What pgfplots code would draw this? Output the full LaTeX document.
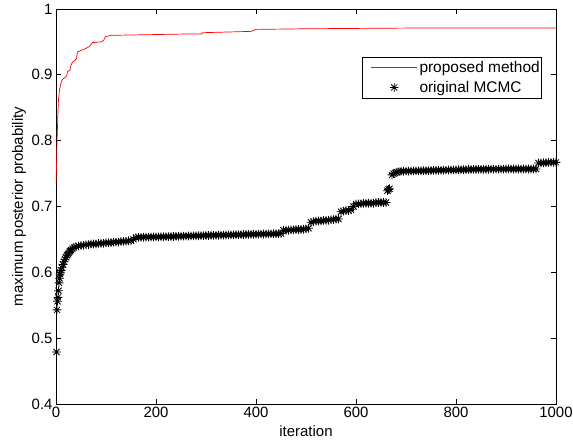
\documentclass[border=0pt]{standalone}
\usepackage{pgfplots}
\pgfplotsset{compat=1.18}
\usepackage{fontspec}
\setmainfont{Liberation Sans}

% MATLAB-like '*' marker: plus and cross together
\pgfdeclareplotmark{mstar}{%
  \pgfpathmoveto{\pgfqpoint{-\pgfplotmarksize}{0pt}}\pgfpathlineto{\pgfqpoint{\pgfplotmarksize}{0pt}}%
  \pgfpathmoveto{\pgfqpoint{0pt}{-\pgfplotmarksize}}\pgfpathlineto{\pgfqpoint{0pt}{\pgfplotmarksize}}%
  \pgfpathmoveto{\pgfqpoint{-.7071\pgfplotmarksize}{-.7071\pgfplotmarksize}}\pgfpathlineto{\pgfqpoint{.7071\pgfplotmarksize}{.7071\pgfplotmarksize}}%
  \pgfpathmoveto{\pgfqpoint{-.7071\pgfplotmarksize}{.7071\pgfplotmarksize}}\pgfpathlineto{\pgfqpoint{.7071\pgfplotmarksize}{-.7071\pgfplotmarksize}}%
  \pgfusepathqstroke}

\begin{document}
\begin{tikzpicture}
\begin{axis}[
    name=ax,
    scale only axis,
    width=500bp, height=395bp,
    xmin=0, xmax=1000, ymin=0.4, ymax=1,
    xtick={0,200,...,1000},
    ytick={0.4,0.5,...,1.0},
    minor tick num=0,
    major tick length=5bp,
    axis line style={line width=0.7bp},
    tick style={line width=0.7bp, black},
    tick label style={font=\fontsize{15}{17}\selectfont},
    label style={font=\fontsize{15}{17}\selectfont},
    /pgf/number format/assume math mode=true,
    /pgf/number format/1000 sep={},
    xlabel={iteration},
    ylabel={maximum posterior probability},
    xlabel style={yshift=-1bp},
    ylabel style={yshift=-1bp},
    clip mode=individual,
    legend style={
        at={(rel axis cs:0.972,0.878)}, anchor=north east,
        draw=black, line width=0.6bp, fill=white,
        font=\fontsize{15.5}{17}\selectfont,
        row sep=3bp, inner xsep=0bp, inner ysep=2bp,
        cells={anchor=west},
    },
    legend image code/.code={\path (0bp,0bp);\draw[mark repeat=2,mark phase=2,#1] plot coordinates {(8bp,0bp) (31bp,0bp) (54bp,0bp)};},
]

\addplot[red, line width=0.7bp, no marks] coordinates {
(0,0.735) (1,0.760) (2,0.800) (3,0.821) (4,0.845) (5,0.862) (7,0.877) (9,0.885)
(11,0.890) (13,0.893) (16,0.895) (20,0.897) (22,0.900) (23,0.905) (28,0.907)
(30,0.915) (33,0.919) (38,0.922) (41,0.925) (43,0.935) (50,0.937) (57,0.939)
(62,0.941) (67,0.943) (70,0.946) (73,0.949) (90,0.950) (95,0.952) (99,0.958)
(110,0.960) (260,0.962) (290,0.962) (293,0.964) (390,0.966) (400,0.969)
(500,0.970) (700,0.971) (1000,0.971)
};
\addlegendentry{proposed method}

\addplot[black, only marks, mark=mstar, mark size=4.3bp, line width=0.8bp] coordinates {
(1,0.479) (2,0.543) (3,0.556) (4,0.562) (5,0.572) (6,0.584) (7,0.591) (8,0.597)
(9,0.600) (10,0.603) (12,0.607) (14,0.612) (16,0.616) (18,0.620) (20,0.623)
(22,0.626) (24,0.628) (26,0.630) (28,0.632) (30,0.634) (33,0.636) (36,0.638)
(40,0.639) (45,0.640) (50,0.641) (55,0.641)
(60,0.642) (65,0.642) (70,0.643) (75,0.643) (80,0.643) (85,0.644) (90,0.644)
(95,0.644) (100,0.645) (105,0.645) (110,0.645) (115,0.646) (120,0.646)
(125,0.646) (130,0.647) (135,0.647) (140,0.647) (145,0.648) (150,0.648)
(155,0.650)
(160,0.6530) (165,0.6531) (170,0.6532) (175,0.6533) (180,0.6534) (185,0.6535)
(190,0.6536) (195,0.6537) (200,0.6538) (205,0.6539) (210,0.6540) (215,0.6541)
(220,0.6542) (225,0.6543) (230,0.6544) (235,0.6545) (240,0.6546) (245,0.6547)
(250,0.6549) (255,0.6550) (260,0.6551) (265,0.6552) (270,0.6553) (275,0.6554)
(280,0.6555) (285,0.6556) (290,0.6557) (295,0.6558) (300,0.6559) (305,0.6560)
(310,0.6561) (315,0.6562) (320,0.6563) (325,0.6564) (330,0.6565) (335,0.6566)
(340,0.6567) (345,0.6568) (350,0.6569) (355,0.6570) (360,0.6571) (365,0.6572)
(370,0.6573) (375,0.6574) (380,0.6575) (385,0.6576) (390,0.6577) (395,0.6578)
(400,0.6579) (405,0.6580) (410,0.6581) (415,0.6582) (420,0.6583) (425,0.6584)
(430,0.6585) (435,0.6586) (440,0.6587) (445,0.6588) (450,0.6589)
(455,0.6640) (460,0.6640) (465,0.6640) (470,0.6645) (475,0.6645) (480,0.6650)
(485,0.6650) (490,0.6650) (495,0.6655) (500,0.6660) (505,0.6670)
(510,0.676) (515,0.677) (520,0.678) (525,0.678) (530,0.678) (535,0.679)
(540,0.679) (545,0.679) (550,0.680) (555,0.680) (560,0.681) (565,0.681)
(570,0.692) (575,0.693) (580,0.694) (585,0.694) (590,0.695) (595,0.700)
(600,0.704) (605,0.704) (610,0.704) (615,0.705) (620,0.705) (625,0.705)
(630,0.705) (635,0.705) (640,0.706) (645,0.706) (650,0.706) (655,0.706)
(660,0.706)
(663,0.724) (665,0.726) (667,0.727)
(672,0.748) (675,0.750) (678,0.751) (682,0.752) (686,0.753) (690,0.7535)
(695,0.7535) (700,0.7537) (705,0.7538) (710,0.7539) (715,0.7540) (720,0.7541)
(725,0.7542) (730,0.7543) (735,0.7544) (740,0.7545) (745,0.7546) (750,0.7547)
(755,0.7548) (760,0.7549) (765,0.7550) (770,0.7551) (775,0.7552) (780,0.7553)
(785,0.7554) (790,0.7555) (795,0.7556) (800,0.7557) (805,0.7558) (810,0.7559)
(815,0.7560) (820,0.7561) (825,0.7562) (830,0.7563) (835,0.7563) (840,0.7564)
(845,0.7564) (850,0.7565) (855,0.7565) (860,0.7566) (865,0.7566) (870,0.7567)
(875,0.7567) (880,0.7567) (885,0.7568) (890,0.7568) (895,0.7568) (900,0.7569)
(905,0.7569) (910,0.7569) (915,0.7569) (920,0.7570) (925,0.7570) (930,0.7570)
(935,0.7570) (940,0.7570) (945,0.7570) (950,0.7570) (955,0.7570) (960,0.7570)
(965,0.7660) (970,0.7660) (975,0.7665) (980,0.7665) (985,0.7670) (990,0.7670)
(995,0.7670) (1000,0.7670)
};
\addlegendentry{original MCMC}
\end{axis}
\pgfresetboundingbox
\useasboundingbox ([shift={(-56bp,-39bp)}]ax.south west) rectangle ([shift={(17bp,9bp)}]ax.north east);
\end{tikzpicture}
\end{document}
